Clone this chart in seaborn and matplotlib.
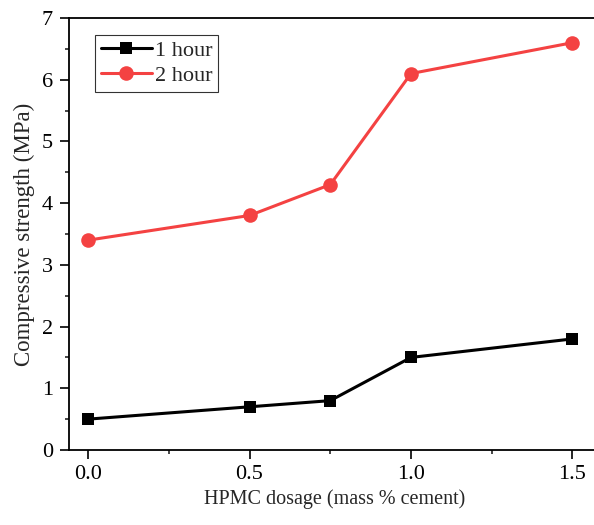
import matplotlib
matplotlib.use("Agg")
import matplotlib.pyplot as plt
import seaborn as sns
import pandas as pd
from matplotlib.ticker import MultipleLocator, FormatStrFormatter

dosage = [0.0, 0.5, 0.75, 1.0, 1.5]
hour1 = [0.5, 0.7, 0.8, 1.5, 1.8]
hour2 = [3.4, 3.8, 4.3, 6.1, 6.6]
series_names = ["1 hour", "2 hour"]

df = pd.DataFrame({
    "dosage": dosage * 2,
    "strength": hour1 + hour2,
    "series": [series_names[0]] * len(dosage) + [series_names[1]] * len(dosage),
})

sns.set_style("ticks")
plt.rcParams['font.family'] = ['Liberation Serif', 'DejaVu Serif']

fig = plt.figure(figsize=(5.94, 5.25), dpi=100)
ax = fig.add_axes([69/594, 1 - 450/525, 1 - 69/594 + 0.01, (450 - 18)/525])

palette = {"1 hour": "black", "2 hour": "#F44242"}
markers = {"1 hour": "s", "2 hour": "o"}
sns.lineplot(data=df, x="dosage", y="strength", hue="series", style="series",
             palette=palette, markers=markers, dashes=False, markersize=9,
             linewidth=2.2, markeredgewidth=0, ax=ax)
for ln in ax.lines:
    if ln.get_marker() == 'o':
        ln.set_markersize(10.5)

ax.set_xlim(-0.059, 1.585)
ax.set_ylim(0, 7)
ax.xaxis.set_major_locator(MultipleLocator(0.5))
ax.xaxis.set_minor_locator(MultipleLocator(0.25))
ax.yaxis.set_major_locator(MultipleLocator(1))
ax.yaxis.set_minor_locator(MultipleLocator(0.5))
ax.xaxis.set_major_formatter(FormatStrFormatter('%.1f'))
ax.tick_params(which='major', direction='out', length=6.5, width=1.2, labelsize=16, colors='black')
ax.tick_params(which='minor', direction='out', length=3, width=1.2)
ax.tick_params(axis='x', which='major', pad=4)
ax.tick_params(axis='y', which='major', pad=5)
for s in ['left', 'bottom', 'top']:
    ax.spines[s].set_linewidth(1.3)
    ax.spines[s].set_color('black')
ax.spines['right'].set_visible(False)

ax.set_xlabel("HPMC dosage (mass % cement)", fontsize=14.5, labelpad=4)
ax.set_ylabel("Compressive strength (MPa)", fontsize=16.5, labelpad=5)

leg = ax.legend(loc='upper left', bbox_to_anchor=(0.049, 0.961), fontsize=16,
                frameon=True, fancybox=False, edgecolor='black', handlelength=2.3,
                borderpad=0.25, labelspacing=0.2, handletextpad=0.15, borderaxespad=0)
leg.get_frame().set_linewidth(0.8)
for h in leg.legend_handles:
    if h.get_marker() == 'o':
        h.set_markersize(10.5)

fig.savefig("out.png", dpi=100)
